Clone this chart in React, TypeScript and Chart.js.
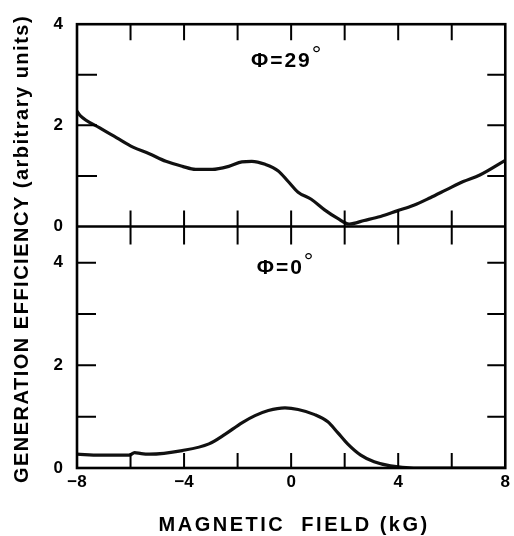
import { useEffect, useRef } from 'react';
import { Chart, registerables } from 'chart.js';

Chart.register(...registerables);

// ---- data ----
const fieldTop = [-8, -7.89, -7.15, -6.53, -5.91, -5.3, -4.68, -4.06, -3.57, -2.95, -2.33, -1.84, -1.47, -0.97, -0.48, -0.11, 0.26, 0.75, 1.25, 1.74, 2.17, 2.73, 3.34, 3.96, 4.58, 5.2, 5.81, 6.43, 7.05, 8];
const effTop = [2.28, 2.2, 1.95, 1.76, 1.57, 1.44, 1.29, 1.19, 1.13, 1.13, 1.19, 1.28, 1.29, 1.23, 1.1, 0.89, 0.68, 0.54, 0.33, 0.16, 0.05, 0.12, 0.2, 0.31, 0.42, 0.57, 0.73, 0.89, 1.02, 1.31];

const fieldBottom = [-8, -7.15, -6.04, -5.85, -5.6, -5.3, -4.07, -3.07, -2.46, -1.84, -1.35, -0.85, -0.23, 0.26, 0.88, 1.37, 1.74, 2.11, 2.6, 3.1, 3.71, 4.58, 6, 8];
const effBottom = [0.27, 0.25, 0.25, 0.3, 0.28, 0.27, 0.34, 0.47, 0.66, 0.88, 1.02, 1.12, 1.17, 1.14, 1.04, 0.9, 0.69, 0.47, 0.25, 0.12, 0.04, 0.0, 0.0, 0.0];

const xLimits = [-8, 8];
const xMajorStep = 4;
const xMinorTicks = [-6, -4, -2, 0, 2, 4, 6];
const topLimits = [0, 4];
const bottomLimits = [0, 4.705];
const yMajorStep = 2;
const topMinorTicks = [1, 2, 3];
const bottomMinorTicks = [1, 2, 3, 4];

const panelLabels = ['\u03A6=29', '\u03A6=0'];
const xTitle = 'MAGNETIC  FIELD (kG)';
const yTitle = 'GENERATION EFFICIENCY (arbitrary units)';

const FONT = "'Liberation Sans', Arial, Helvetica, sans-serif";

const framePlugin = {
  id: 'frameTicks',
  afterDatasetsDraw(chart: any) {
    const { ctx } = chart;
    const x = chart.scales.x;
    const yt = chart.scales.yTop;
    const yb = chart.scales.yBot;
    const L = x.getPixelForValue(xLimits[0]);
    const R = x.getPixelForValue(xLimits[1]);
    const T = yt.getPixelForValue(topLimits[1]);
    const M = yt.getPixelForValue(topLimits[0]);
    const B = yb.getPixelForValue(bottomLimits[0]);

    ctx.save();
    ctx.strokeStyle = '#000';
    ctx.lineCap = 'butt';

    // ticks
    ctx.lineWidth = 2;
    ctx.beginPath();
    for (const v of xMinorTicks) {
      const px = x.getPixelForValue(v);
      ctx.moveTo(px, T); ctx.lineTo(px, T + 16);
      ctx.moveTo(px, M - 16); ctx.lineTo(px, M + 18);
      ctx.moveTo(px, B); ctx.lineTo(px, B - 15);
    }
    for (const v of topMinorTicks) {
      const py = yt.getPixelForValue(v);
      ctx.moveTo(L, py); ctx.lineTo(L + 20, py);
      ctx.moveTo(R, py); ctx.lineTo(R - 18, py);
    }
    for (const v of bottomMinorTicks) {
      const py = yb.getPixelForValue(v);
      ctx.moveTo(L, py); ctx.lineTo(L + 19, py);
      ctx.moveTo(R, py); ctx.lineTo(R - 18, py);
    }
    ctx.stroke();

    // frame
    ctx.lineWidth = 2.6;
    ctx.strokeRect(L, T, R - L, B - T);
    ctx.beginPath();
    ctx.moveTo(L, M); ctx.lineTo(R, M);
    ctx.stroke();

    // panel labels
    ctx.fillStyle = '#000';
    const anchors = [
      { s: yt, x: -0.15, y: 3.3 },
      { s: yb, x: -0.19, y: 3.92 },
    ];
    anchors.forEach((a, i) => {
      const cx = x.getPixelForValue(a.x);
      const cy = a.s.getPixelForValue(a.y);
      (ctx as any).letterSpacing = '2px';
      ctx.font = `bold 21px ${FONT}`;
      const w = ctx.measureText(panelLabels[i]).width;
      ctx.font = `normal 24px ${FONT}`;
      const dw = ctx.measureText('\u00B0').width;
      const sx = cx - (w + dw) / 2;
      ctx.textAlign = 'left';
      ctx.textBaseline = 'alphabetic';
      ctx.font = `bold 21px ${FONT}`;
      ctx.fillText(panelLabels[i], sx, cy + 7.5);
      ctx.font = `normal 24px ${FONT}`;
      ctx.fillText('\u00B0', sx + w, cy + 2);
    });

    // axis titles
    ctx.font = `bold 20px ${FONT}`;
    ctx.textAlign = 'center';
    ctx.textBaseline = 'alphabetic';
    (ctx as any).letterSpacing = '2.5px';
    ctx.fillText(xTitle, (L + R) / 2 + 3, 531);

    ctx.translate(28, 249);
    ctx.rotate(-Math.PI / 2);
    (ctx as any).letterSpacing = '1.5px';
    ctx.fillText(yTitle, 0, 0);
    ctx.restore();
  },
};

export default function App() {
  const ref = useRef<HTMLCanvasElement | null>(null);

  useEffect(() => {
    if (!ref.current) return;
    const tickFont = { family: FONT, size: 17, weight: 'bold' as const };
    const yCommon = {
      type: 'linear' as const,
      position: 'left' as const,
      stack: 'panels',
      grid: { display: false, drawTicks: false },
      border: { display: false },
      ticks: { stepSize: yMajorStep, includeBounds: false, padding: 14, color: '#000', font: tickFont },
      afterFit: (s: any) => { s.width = 77; },
    };
    const chart = new Chart(ref.current, {
      type: 'line',
      data: {
        datasets: [
          {
            label: 'phi29',
            data: fieldTop.map((v, i) => ({ x: v, y: effTop[i] })),
            yAxisID: 'yTop',
            borderColor: '#111',
            borderWidth: 3.2,
            pointRadius: 0,
            cubicInterpolationMode: 'monotone',
          },
          {
            label: 'phi0',
            data: fieldBottom.map((v, i) => ({ x: v, y: effBottom[i] })),
            yAxisID: 'yBot',
            borderColor: '#111',
            borderWidth: 3.2,
            pointRadius: 0,
            cubicInterpolationMode: 'monotone',
          },
        ],
      },
      options: {
        responsive: false,
        animation: false,
        layout: { padding: { top: 14, right: 5, left: 0, bottom: 0 } },
        plugins: { legend: { display: false }, tooltip: { enabled: false }, title: { display: false } },
        scales: {
          x: {
            type: 'linear',
            position: 'bottom',
            min: xLimits[0],
            max: xLimits[1],
            grid: { display: false, drawTicks: false },
            border: { display: false },
            ticks: {
              stepSize: xMajorStep,
              padding: 4,
              color: '#000',
              font: tickFont,
              maxRotation: 0,
              autoSkip: false,
              callback: (v: any) => String(v).replace('-', '\u2212'),
            },
            afterFit: (s: any) => { s.height = 68; },
          },
          yBot: { ...yCommon, min: bottomLimits[0], max: bottomLimits[1], stackWeight: 247 },
          yTop: { ...yCommon, min: topLimits[0], max: topLimits[1], stackWeight: 207 },
        },
      } as any,
      plugins: [framePlugin],
    });
    return () => chart.destroy();
  }, []);

  return (
    <div style={{ position: 'fixed', left: 0, top: 0, width: 514, height: 536, background: '#fff' }}>
      <canvas ref={ref} width={514} height={536} style={{ display: 'block' }} />
    </div>
  );
}
